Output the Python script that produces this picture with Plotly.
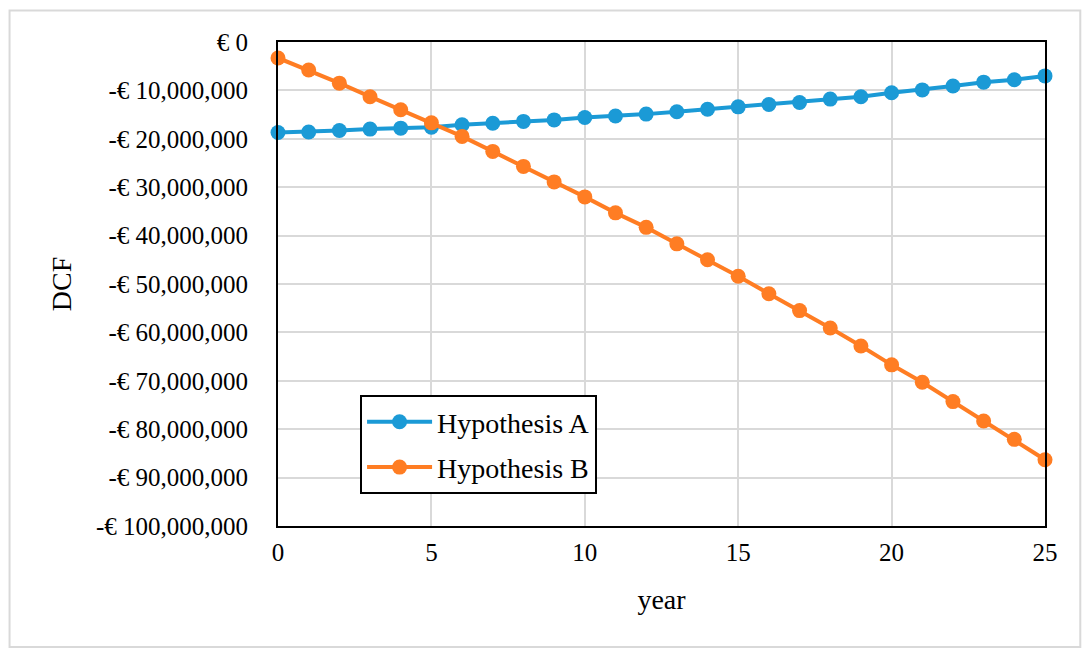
import plotly.graph_objects as go

# ---- data ----
years = list(range(0, 26))
hypothesis_a = [-18_700_000, -18_600_000, -18_300_000, -18_000_000, -17_800_000,
                -17_600_000, -17_100_000, -16_800_000, -16_400_000, -16_100_000,
                -15_600_000, -15_300_000, -14_900_000, -14_400_000, -13_900_000,
                -13_400_000, -12_900_000, -12_500_000, -11_800_000, -11_300_000,
                -10_500_000, -9_900_000, -9_100_000, -8_300_000, -7_800_000,
                -7_000_000]
hypothesis_b = [-3_300_000, -5_800_000, -8_500_000, -11_300_000, -14_000_000,
                -16_700_000, -19_500_000, -22_600_000, -25_700_000, -28_900_000,
                -32_000_000, -35_300_000, -38_300_000, -41_700_000, -45_000_000,
                -48_400_000, -52_000_000, -55_500_000, -59_100_000, -62_800_000,
                -66_700_000, -70_300_000, -74_300_000, -78_300_000, -82_100_000,
                -86_300_000]
y_tick_vals = [0, -10_000_000, -20_000_000, -30_000_000, -40_000_000, -50_000_000,
               -60_000_000, -70_000_000, -80_000_000, -90_000_000, -100_000_000]
y_tick_text = ["€ 0", "-€ 10,000,000", "-€ 20,000,000", "-€ 30,000,000",
               "-€ 40,000,000", "-€ 50,000,000", "-€ 60,000,000", "-€ 70,000,000",
               "-€ 80,000,000", "-€ 90,000,000", "-€ 100,000,000"]
x_tick_vals = [0, 5, 10, 15, 20, 25]
x_tick_text = ["0", "5", "10", "15", "20", "25"]

BLUE = "#1B9AD6"
ORANGE = "#FF7D23"
FONT = "Liberation Serif"

fig = go.Figure()
fig.add_trace(go.Scatter(
    x=years, y=hypothesis_a, name="Hypothesis A", mode="lines+markers",
    line=dict(color=BLUE, width=4), marker=dict(color=BLUE, size=15),
    cliponaxis=False, legendgroup="a"))
fig.add_trace(go.Scatter(
    x=years, y=hypothesis_b, name="Hypothesis B", mode="lines+markers",
    line=dict(color=ORANGE, width=4), marker=dict(color=ORANGE, size=15),
    cliponaxis=False, legendgroup="b"))

fig.update_layout(
    width=1082, height=648,
    margin=dict(l=278, r=37, t=42, b=122),
    paper_bgcolor="white", plot_bgcolor="white",
    font=dict(family=FONT, color="black"),
    showlegend=True,
    legend=dict(
        x=0.107, y=0.2707, xanchor="left", yanchor="top",
        bgcolor="white", bordercolor="black", borderwidth=2,
        font=dict(family=FONT, size=28, color="black"),
        traceorder="grouped", tracegroupgap=6, itemwidth=65,
    ),
    shapes=[dict(type="rect", xref="paper", yref="paper",
                 x0=-0.350, x1=1.046, y0=-0.250, y1=1.065,
                 line=dict(color="#d9d9d9", width=2), layer="below")],
)
fig.update_xaxes(
    range=[0, 25], tickvals=x_tick_vals, ticktext=x_tick_text,
    showgrid=True, gridcolor="#d9d9d9", gridwidth=1.5,
    showline=True, linecolor="black", linewidth=2, mirror=True,
    zeroline=False, ticks="", ticklabelstandoff=3,
    tickfont=dict(family=FONT, size=25, color="black"),
    title=dict(text="year", font=dict(family=FONT, size=28, color="black"), standoff=24),
)
fig.update_yaxes(
    range=[-100_000_000, 0], tickvals=y_tick_vals, ticktext=y_tick_text,
    showgrid=True, gridcolor="#d9d9d9", gridwidth=1.5,
    showline=True, linecolor="black", linewidth=2, mirror=True,
    zeroline=False, ticks="", ticklabelstandoff=23,
    tickfont=dict(family=FONT, size=25, color="black"),
    title=dict(text="DCF", font=dict(family=FONT, size=28, color="black"), standoff=16),
)

fig.write_html("out.html")
